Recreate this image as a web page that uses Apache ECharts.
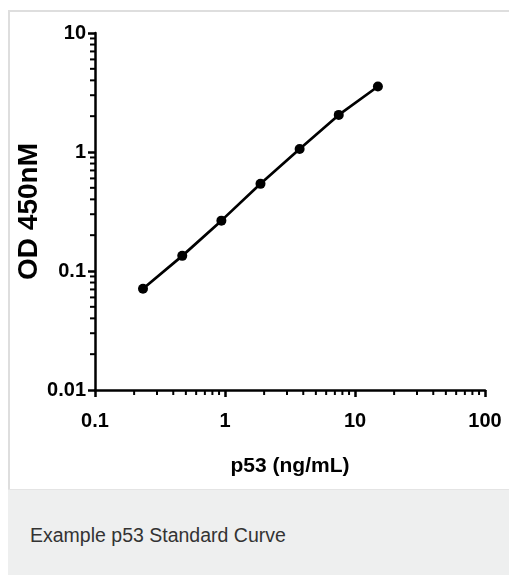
<!DOCTYPE html>
<html>
<head>
<meta charset="utf-8">
<script src="https://cdn.jsdelivr.net/npm/echarts@6/dist/echarts.min.js"></script>
<style>
  html, body { margin: 0; padding: 0; background: #fff; overflow: hidden; width: 509px; height: 575px; }
  #frame { position: absolute; left: 8px; top: 10px; width: 501px; height: 477px;
           border-left: 2px solid #dedede; border-top: 2px solid #dedede; background: #fff; }
  #caption { position: absolute; left: 8px; top: 489px; width: 501px; height: 86px;
             border-top: 1px solid #e4e4e4; background: #eeefef;
             font-family: "Liberation Sans", Arial, sans-serif; font-size: 19.5px; color: #333; }
  #caption span { position: absolute; left: 22px; top: 34px; }
  #chart { position: absolute; left: 0; top: 0; width: 509px; height: 489px; }
</style>
</head>
<body>
<div id="frame"></div>
<div id="caption"><span>Example p53 Standard Curve</span></div>
<div id="chart"></div>
<script>
// standard curve points (2-fold dilutions)
const conc = [0.234, 0.469, 0.938, 1.875, 3.75, 7.5, 15];
const od = [0.071, 0.134, 0.265, 0.54, 1.06, 2.05, 3.55];

// axis ranges
const xMin = 0.1, xMax = 100;
const yMin = 0.01, yMax = 10;

// minor tick positions (log decades)
const xMinor = [0.2, 0.3, 0.4, 0.5, 0.6, 0.7, 0.8, 0.9,
                2, 3, 4, 5, 6, 7, 8, 9,
                20, 30, 40, 50, 60, 70, 80, 90];
const yMinor = [0.02, 0.03, 0.04, 0.05, 0.06, 0.07, 0.08, 0.09,
                0.2, 0.3, 0.4, 0.5, 0.6, 0.7, 0.8, 0.9,
                2, 3, 4, 5, 6, 7, 8, 9];

const chart = echarts.init(document.getElementById('chart'));

const tickFont = {
  fontFamily: '"Liberation Sans", Arial, sans-serif',
  fontWeight: 'bold',
  fontSize: 20,
  color: '#000'
};
const fmt = v => String(+Number(v).toPrecision(3));

const axisBase = {
  type: 'log',
  logBase: 10,
  axisLine: { lineStyle: { color: '#000', width: 2.5 } },
  axisTick: { length: 7, lineStyle: { color: '#000', width: 2.5 } },
  splitLine: { show: false }
};

chart.setOption({
  animation: false,
  grid: { left: 95, top: 33, width: 390, height: 357 },
  xAxis: Object.assign({}, axisBase, {
    min: xMin, max: xMax,
    name: 'p53 (ng/mL)',
    nameLocation: 'middle',
    nameGap: 66,
    nameMoveOverlap: false,
    nameTextStyle: Object.assign({}, tickFont, { fontSize: 21 }),
    axisLabel: Object.assign({}, tickFont, { margin: 21, formatter: fmt })
  }),
  yAxis: Object.assign({}, axisBase, {
    min: yMin, max: yMax,
    name: 'OD 450nM',
    nameLocation: 'middle',
    nameGap: 52,
    nameMoveOverlap: false,
    nameTextStyle: Object.assign({}, tickFont, { fontSize: 28 }),
    axisLabel: Object.assign({}, tickFont, { margin: 9, formatter: fmt })
  }),
  series: [
    {
      type: 'line',
      data: conc.map((c, i) => [c, od[i]]),
      symbol: 'circle',
      symbolSize: 10,
      itemStyle: { color: '#000' },
      lineStyle: { color: '#000', width: 2.7 },
      z: 5
    },
    {
      type: 'custom',
      data: xMinor.map(v => [v, yMin]),
      renderItem: (params, api) => {
        const p = api.coord([api.value(0), api.value(1)]);
        return {
          type: 'line',
          shape: { x1: p[0], y1: p[1], x2: p[0], y2: p[1] + 5 },
          style: { stroke: '#000', lineWidth: 2 }
        };
      },
      silent: true
    },
    {
      type: 'custom',
      data: yMinor.map(v => [xMin, v]),
      renderItem: (params, api) => {
        const p = api.coord([api.value(0), api.value(1)]);
        return {
          type: 'line',
          shape: { x1: p[0] - 5, y1: p[1], x2: p[0], y2: p[1] },
          style: { stroke: '#000', lineWidth: 2 }
        };
      },
      silent: true
    }
  ]
});
</script>
</body>
</html>
